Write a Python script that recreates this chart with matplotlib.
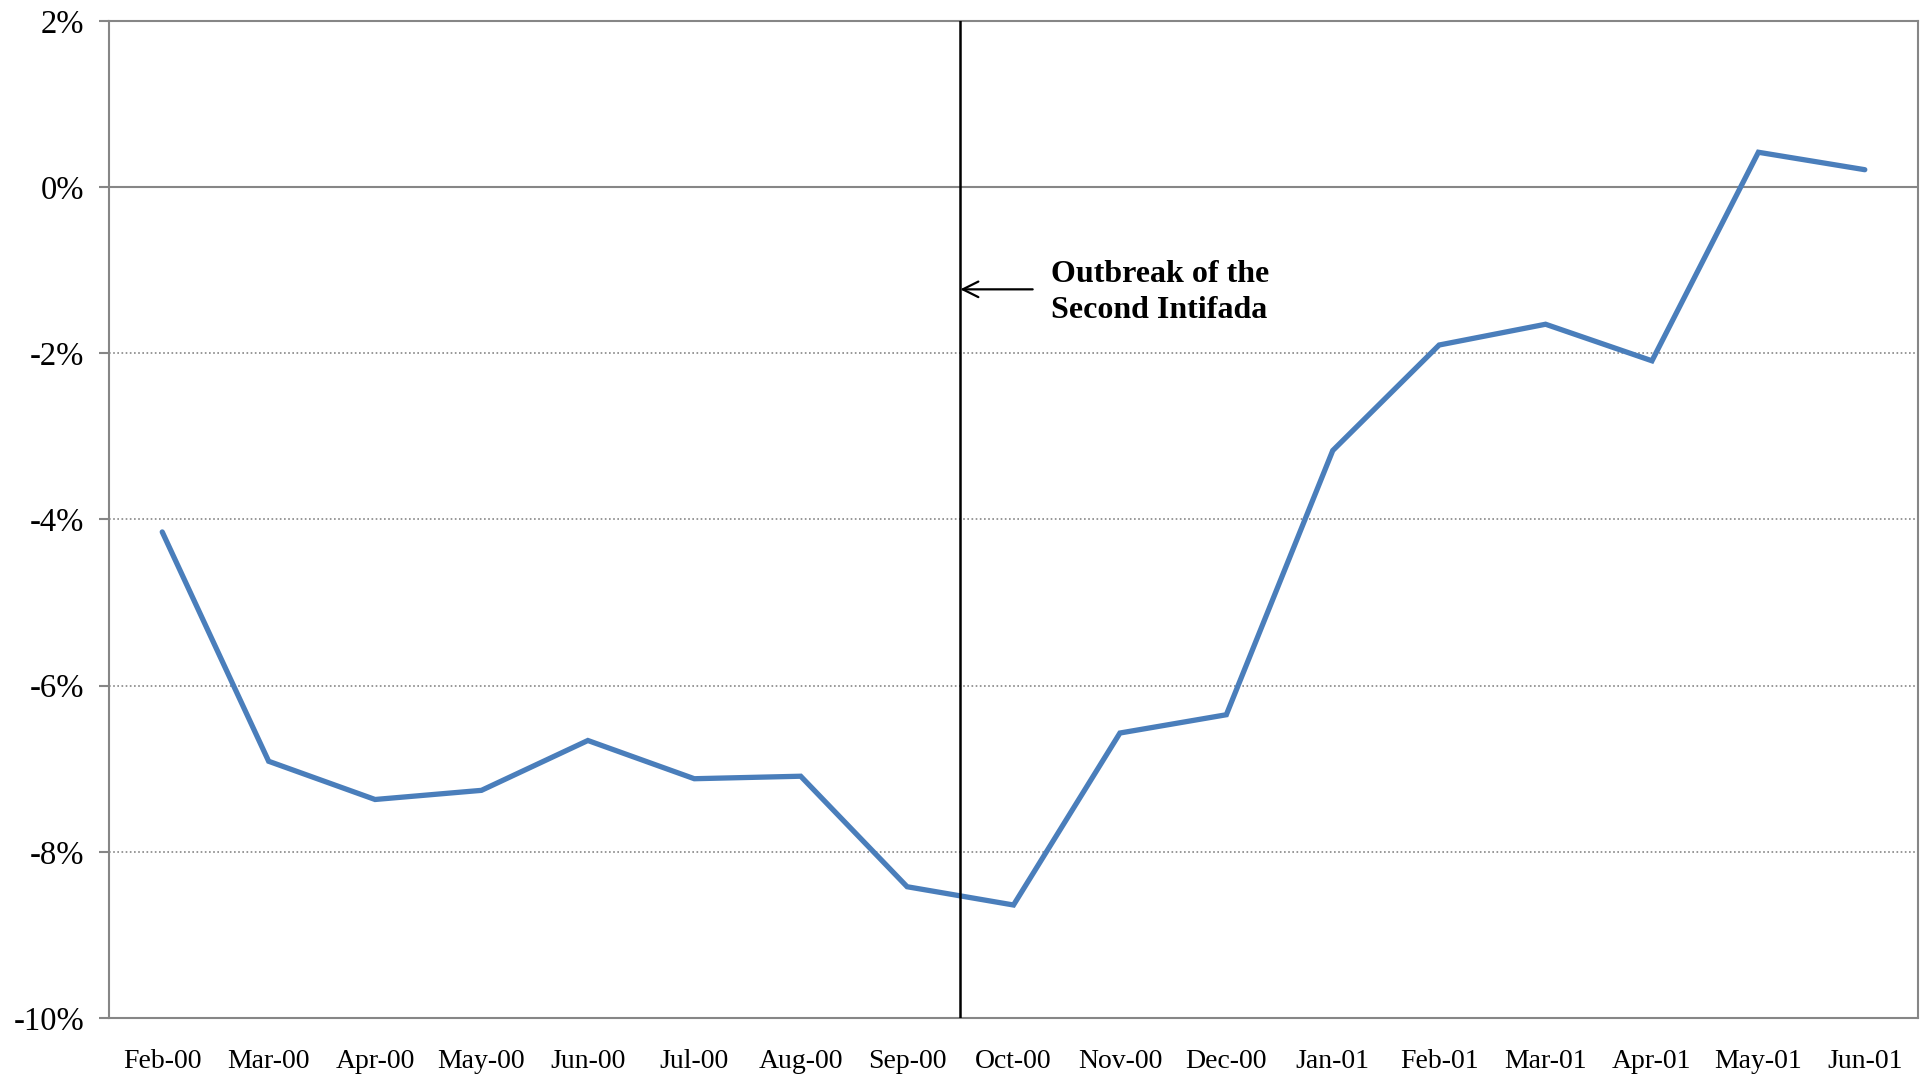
import matplotlib.pyplot as plt
from matplotlib.ticker import FuncFormatter

# Monthly change, Feb 2000 - Jun 2001 (percent)
months = ["Feb-00", "Mar-00", "Apr-00", "May-00", "Jun-00", "Jul-00",
          "Aug-00", "Sep-00", "Oct-00", "Nov-00", "Dec-00", "Jan-01",
          "Feb-01", "Mar-01", "Apr-01", "May-01", "Jun-01"]
change = [-4.15, -6.91, -7.37, -7.26, -6.66, -7.12, -7.09, -8.42, -8.64,
          -6.57, -6.35, -3.17, -1.90, -1.65, -2.09, 0.42, 0.21]
y_ticks = [2, 0, -2, -4, -6, -8, -10]

# Intifada marker sits between Sep-00 and Oct-00
event_x = 7.5
event_label = "Outbreak of the\nSecond Intifada"

plt.rcParams["font.family"] = ["Liberation Serif", "DejaVu Serif"]

LINE_BLUE = "#4a7ebb"
FRAME_GREY = "#868686"

fig = plt.figure(figsize=(19.23, 10.76), dpi=100)
ax = fig.add_axes([0.0567, 0.0539, 0.9407, 0.9266])

x = range(len(months))
ax.plot(x, change, color=LINE_BLUE, lw=3.8, solid_capstyle="round",
        solid_joinstyle="miter", zorder=3)

ax.set_xlim(-0.5, len(months) - 0.5)
ax.set_ylim(-10, 2)
ax.set_yticks(y_ticks)
ax.yaxis.set_major_formatter(FuncFormatter(lambda v, _: f"{v:.0f}%"))
ax.set_xticks(list(x))
ax.set_xticklabels(months)

# dotted gridlines, solid zero line
for v in y_ticks:
    if v in (2, -10):
        continue
    if v == 0:
        ax.axhline(v, color=FRAME_GREY, lw=1.5, zorder=1)
    else:
        ax.axhline(v, color=FRAME_GREY, lw=1.2, ls=(0, (1, 1.5)), zorder=1)

for spine in ax.spines.values():
    spine.set_color(FRAME_GREY)
    spine.set_linewidth(1.5)

ax.tick_params(axis="y", length=7, width=1.5, color=FRAME_GREY,
               labelsize=23.5, pad=11)
ax.tick_params(axis="x", length=0, labelsize=20, pad=22)

ax.axvline(event_x, color="black", lw=1.8, zorder=4)
ax.annotate("", xy=(event_x, -1.23), xytext=(event_x + 0.68, -1.23),
            arrowprops=dict(arrowstyle="->", color="black", lw=1.6,
                            mutation_scale=28, shrinkA=0, shrinkB=0))
ax.text(event_x + 0.85, -1.27, event_label, ha="left", va="center",
        fontsize=23, fontweight="bold", linespacing=1.3)

fig.savefig("out.png", dpi=100)
